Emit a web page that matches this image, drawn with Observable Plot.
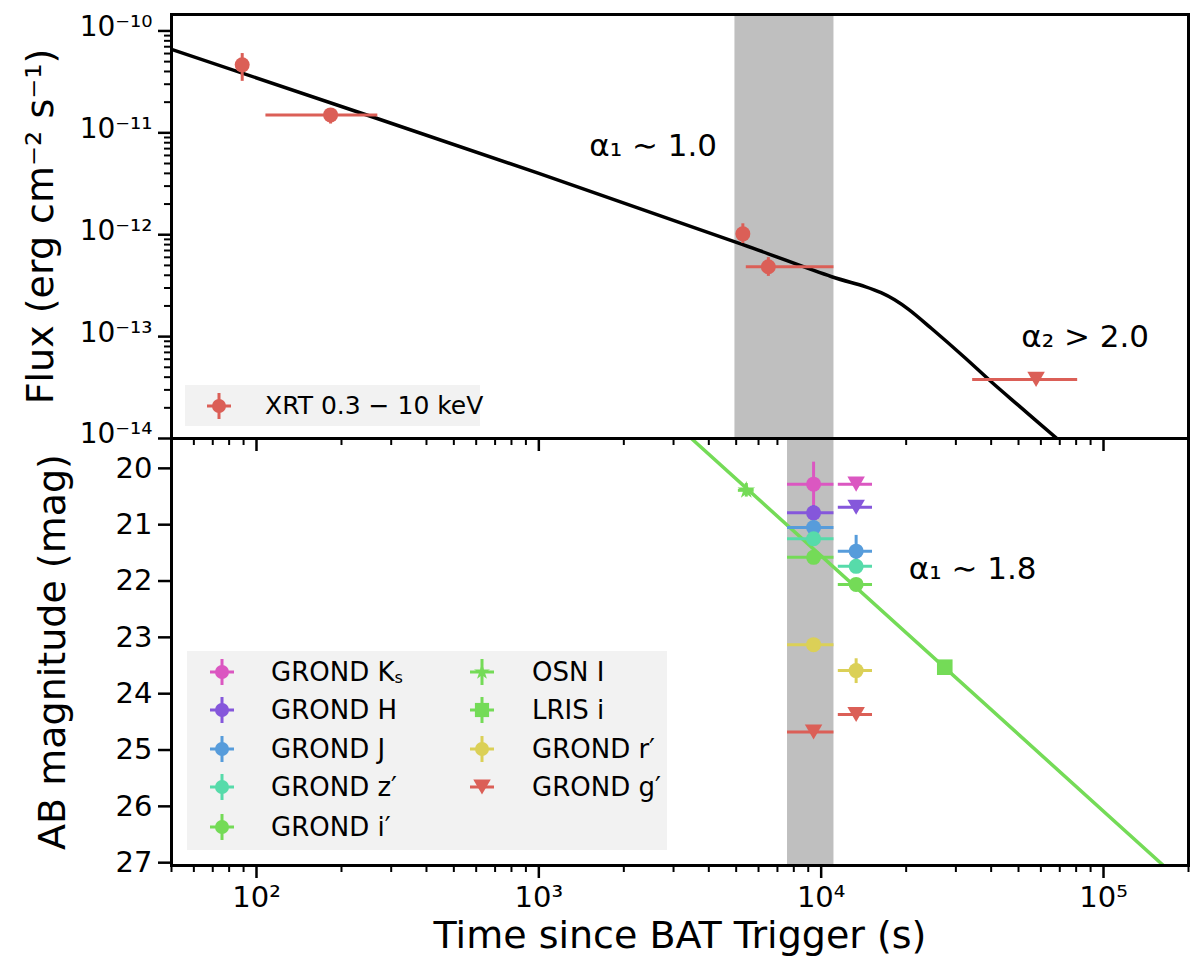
<!DOCTYPE html>
<html>
<head>
<meta charset="utf-8">
<script src="https://cdn.jsdelivr.net/npm/d3@7"></script>
<script src="https://cdn.jsdelivr.net/npm/@observablehq/plot@0.6"></script>
<style>
  body { margin: 0; background: #fff; font-family: "DejaVu Sans", sans-serif; }
  #wrap { position: relative; width: 1200px; height: 966px; overflow: hidden; }
  .legend { position: absolute; background: #f2f2f2; }
  .legend .mk { position: absolute; width: 36px; height: 36px; }
  .legend .lb { position: absolute; white-space: nowrap; color: #000; line-height: 30px; }
  .legend sub { font-size: 62%; vertical-align: -0.15em; }
</style>
</head>
<body>
<div id="wrap">
  <div id="topPanel"></div>
  <div id="bottomPanel"></div>
</div>
<script>
// axis ticks
const xMajor = [100, 1000, 10000, 100000];
const xMajorLabels = ["10²", "10³", "10⁴", "10⁵"];
const xMinor = [50, 60, 70, 80, 90, 200, 300, 400, 500, 600, 700, 800, 900,
  2000, 3000, 4000, 5000, 6000, 7000, 8000, 9000,
  20000, 30000, 40000, 50000, 60000, 70000, 80000, 90000, 200000];
const fluxMajor = [1e-14, 1e-13, 1e-12, 1e-11, 1e-10];
const fluxLabels = ["10⁻¹⁴", "10⁻¹³", "10⁻¹²", "10⁻¹¹", "10⁻¹⁰"];
const fluxMinor = [2e-14, 3e-14, 4e-14, 5e-14, 6e-14, 7e-14, 8e-14, 9e-14,
  2e-13, 3e-13, 4e-13, 5e-13, 6e-13, 7e-13, 8e-13, 9e-13,
  2e-12, 3e-12, 4e-12, 5e-12, 6e-12, 7e-12, 8e-12, 9e-12,
  2e-11, 3e-11, 4e-11, 5e-11, 6e-11, 7e-11, 8e-11, 9e-11];
const magTicks = [20, 21, 22, 23, 24, 25, 26, 27];

// X-ray panel
const xrtT = [89, 183, 5280, 6500];
const xrtTLo = [89, 108, 5280, 5430];
const xrtTHi = [89, 269, 5280, 11100];
const xrtF = [4.65e-11, 1.5e-11, 1.02e-12, 4.85e-13];
const xrtFLo = [3.2e-11, 1.22e-11, 8.2e-13, 3.9e-13];
const xrtFHi = [6.0e-11, 1.64e-11, 1.28e-12, 5.96e-13];
const xrtUlT = [57700];
const xrtUlTLo = [34400];
const xrtUlTHi = [81000];
const xrtUlF = [3.8e-14];
// fitted X-ray light curve
const modelT = [50, 1000, 5280, 10900, 14300, 16300, 18200, 20400, 24600, 32300, 40300, 50100, 68400];
const modelF = [6.6e-11, 4.0e-12, 8.0e-13, 3.87e-13, 3.1e-13, 2.7e-13, 2.3e-13, 1.85e-13, 1.2e-13, 6.2e-14, 3.54e-14, 2.1e-14, 1.0e-14];
const xrayBand = [4950, 11100];

// optical / NIR panel
const filters = ["GROND K<sub>s</sub>", "GROND H", "GROND J", "GROND z′", "GROND i′", "OSN I", "LRIS i", "GROND r′", "GROND g′"];
const filterColors = ["#db57c1", "#8557db", "#579cdb", "#57dbaa", "#74db57", "#74db57", "#74db57", "#dbd057", "#db5f57"];
const filterShapes = ["circle", "circle", "circle", "circle", "circle", "star", "square", "circle", "triangleDown"];

const detBand = [0, 1, 2, 3, 4, 7, 2, 3, 4, 7, 5, 6];
const detT = [9400, 9400, 9400, 9400, 9400, 9400, 13300, 13300, 13300, 13300, 5430, 27400];
const detTLo = [7600, 7600, 7600, 7600, 7600, 7600, 11500, 11500, 11500, 11500, 5090, 27400];
const detTHi = [11100, 11100, 11100, 11100, 11100, 11100, 15200, 15200, 15200, 15200, 5790, 27400];
const detMag = [20.28, 20.79, 21.05, 21.25, 21.58, 23.13, 21.47, 21.74, 22.06, 23.59, 20.39, 23.53];
const detMagLo = [19.89, 20.66, 20.93, 21.15, 21.47, 23.04, 21.19, 21.68, 21.97, 23.38, 20.27, 23.45];
const detMagHi = [20.67, 20.92, 21.17, 21.35, 21.69, 23.22, 21.75, 21.80, 22.15, 23.82, 20.51, 23.61];

const ulBand = [0, 1, 8, 8];
const ulT = [13300, 13300, 9400, 13300];
const ulTLo = [11500, 11500, 7600, 11500];
const ulTHi = [15200, 15200, 11100, 15200];
const ulMag = [20.28, 20.69, 24.68, 24.37];

// fitted optical decay
const optFitT = [3470, 163000];
const optFitMag = [19.47, 27.05];
const opticalBand = [7600, 11100];

// annotations
const topNoteT = [2540, 86100];
const topNoteF = [7.4e-12, 9.8e-14];
const topNoteText = ["α₁ ∼ 1.0", "α₂ > 2.0"];
const botNoteT = [34400];
const botNoteMag = [21.78];
const botNoteText = ["α₁ ∼ 1.8"];

const red = "#db5f57";
const font = "DejaVu Sans";

// downward triangle like matplotlib "v"
const triangleDown = {
  draw(context, size) {
    const s = Math.sqrt(size / (Math.sqrt(3) / 4));
    const h = s * Math.sqrt(3) / 2;
    context.moveTo(-s / 2, -h / 2);
    context.lineTo(s / 2, -h / 2);
    context.lineTo(0, h / 2);
    context.closePath();
  }
};
const shapes = { circle: d3.symbolCircle, star: d3.symbolStar, square: d3.symbolSquare, triangleDown };

const xrt = xrtT.map((t, i) => ({ t, tlo: xrtTLo[i], thi: xrtTHi[i], f: xrtF[i], flo: xrtFLo[i], fhi: xrtFHi[i] }));
const xrtUl = xrtUlT.map((t, i) => ({ t, tlo: xrtUlTLo[i], thi: xrtUlTHi[i], f: xrtUlF[i] }));
const model = modelT.map((t, i) => ({ t, f: modelF[i] }));
const det = detT.map((t, i) => ({ band: detBand[i], t, tlo: detTLo[i], thi: detTHi[i], m: detMag[i], mlo: detMagLo[i], mhi: detMagHi[i] }));
const ul = ulT.map((t, i) => ({ band: ulBand[i], t, tlo: ulTLo[i], thi: ulTHi[i], m: ulMag[i] }));
const optFit = optFitT.map((t, i) => ({ t, m: optFitMag[i] }));

const xScale = { type: "log", domain: [50, 200000] };
const colorOf = d => filterColors[d.band];

// ---------- top panel: X-ray flux ----------
const topChart = Plot.plot({
  width: 1200,
  height: 438,
  marginLeft: 171,
  marginRight: 12,
  marginTop: 14,
  marginBottom: 0,
  x: xScale,
  y: { type: "log", domain: [1e-14, 1.45e-10] },
  style: { fontFamily: font, overflow: "visible", background: "transparent" },
  marks: [
    Plot.rect([xrayBand], { x1: d => d[0], x2: d => d[1], fill: "#bfbfbf" }),
    Plot.line(model, { x: "t", y: "f", stroke: "black", strokeWidth: 3.5, curve: "catmull-rom", clip: true }),
    Plot.ruleX(xrt, { x: "t", y1: "flo", y2: "fhi", stroke: red, strokeWidth: 3 }),
    Plot.ruleY(xrt.filter(d => d.thi > d.tlo), { y: "f", x1: "tlo", x2: "thi", stroke: red, strokeWidth: 3 }),
    Plot.dot(xrt, { x: "t", y: "f", r: 7.5, fill: red }),
    Plot.ruleY(xrtUl, { y: "f", x1: "tlo", x2: "thi", stroke: red, strokeWidth: 3 }),
    Plot.dot(xrtUl, { x: "t", y: "f", r: 6.5, symbol: triangleDown, fill: red }),
    Plot.text(topNoteText, { x: (d, i) => topNoteT[i], y: (d, i) => topNoteF[i], text: d => d, fontSize: 31 }),
    Plot.axisY({ ticks: fluxMajor, tickFormat: () => "", tickSize: 13, strokeWidth: 2.5, label: null }),
    Plot.axisY({ ticks: fluxMajor, tickFormat: d => fluxLabels[fluxMajor.indexOf(d)], tickSize: 0, tickPadding: 19, dy: -4, fontSize: 28, label: null }),
    Plot.axisY({ ticks: fluxMinor, tickFormat: () => "", tickSize: 7, strokeWidth: 2, label: null }),
    Plot.axisX({ ticks: xMajor, tickFormat: () => "", tickSize: 13, strokeWidth: 2.5, label: null }),
    Plot.axisX({ ticks: xMinor, tickFormat: () => "", tickSize: 7, strokeWidth: 2, label: null }),
    Plot.text(["Flux (erg cm⁻² s⁻¹)"], { frameAnchor: "left", dx: -131, rotate: -90, textAnchor: "middle", lineAnchor: "middle", text: d => d, fontSize: 38 }),
    Plot.frame({ stroke: "black", strokeWidth: 3 })
  ]
});

// ---------- bottom panel: AB magnitudes ----------
const bottomChart = Plot.plot({
  width: 1200,
  height: 528,
  marginLeft: 171,
  marginRight: 12,
  marginTop: 0,
  marginBottom: 101,
  x: xScale,
  y: { domain: [19.47, 27.05], reverse: true },
  style: { fontFamily: font, overflow: "visible", background: "transparent" },
  marks: [
    Plot.rect([opticalBand], { x1: d => d[0], x2: d => d[1], fill: "#bfbfbf" }),
    Plot.line(optFit, { x: "t", y: "m", stroke: "#74db57", strokeWidth: 3.5, clip: true }),
    Plot.ruleX(det, { x: "t", y1: "mlo", y2: "mhi", stroke: colorOf, strokeWidth: 3 }),
    Plot.ruleY(det.filter(d => d.thi > d.tlo), { y: "m", x1: "tlo", x2: "thi", stroke: colorOf, strokeWidth: 3 }),
    Plot.dot(det.filter(d => filterShapes[d.band] === "circle"), { x: "t", y: "m", r: 7.5, fill: colorOf }),
    Plot.dot(det.filter(d => filterShapes[d.band] === "star"), { x: "t", y: "m", r: 5.5, symbol: "star", fill: colorOf }),
    Plot.dot(det.filter(d => filterShapes[d.band] === "square"), { x: "t", y: "m", r: 8.8, symbol: "square", fill: colorOf }),
    Plot.ruleY(ul, { y: "m", x1: "tlo", x2: "thi", stroke: colorOf, strokeWidth: 3 }),
    Plot.dot(ul, { x: "t", y: "m", r: 6.5, symbol: triangleDown, fill: colorOf }),
    Plot.text(botNoteText, { x: (d, i) => botNoteT[i], y: (d, i) => botNoteMag[i], text: d => d, fontSize: 31 }),
    Plot.axisY({ ticks: magTicks, tickSize: 13, tickPadding: 6, strokeWidth: 2.5, fontSize: 29, label: null }),
    Plot.axisX({ ticks: xMajor, tickFormat: d => xMajorLabels[xMajor.indexOf(d)], tickSize: 13, tickPadding: 8, strokeWidth: 2.5, fontSize: 29, label: null }),
    Plot.axisX({ ticks: xMinor, tickFormat: () => "", tickSize: 7, strokeWidth: 2, label: null }),
    Plot.text(["AB magnitude (mag)"], { frameAnchor: "left", dx: -119, rotate: -90, textAnchor: "middle", lineAnchor: "middle", text: d => d, fontSize: 38 }),
    Plot.text(["Time since BAT Trigger (s)"], { frameAnchor: "bottom", dy: 70, textAnchor: "middle", lineAnchor: "middle", text: d => d, fontSize: 38 }),
    Plot.frame({ stroke: "black", strokeWidth: 3 })
  ]
});

d3.select("#topPanel").append(() => topChart);
d3.select("#bottomPanel").append(() => bottomChart);

// ---------- legends ----------
function marker(color, shape, r, hbar, vbar) {
  const s = d3.create("svg").attr("class", "mk").attr("viewBox", "-18 -18 36 36");
  if (hbar) s.append("line").attr("x1", -12).attr("x2", 12).attr("stroke", color).attr("stroke-width", 3);
  if (vbar) s.append("line").attr("y1", -13).attr("y2", 13).attr("stroke", color).attr("stroke-width", 3);
  s.append("path").attr("d", d3.symbol(shapes[shape], Math.PI * r * r)()).attr("fill", color);
  return s.node();
}

function legendBox(left, topPx, w, h, items, fontSize) {
  const box = d3.select("#wrap").append("div").attr("class", "legend")
    .style("left", left + "px").style("top", topPx + "px")
    .style("width", w + "px").style("height", h + "px");
  for (const it of items) {
    box.append(() => marker(it.color, it.shape, it.r, true, it.shape !== "triangleDown"))
      .style("left", (it.mx - left - 18) + "px").style("top", (it.cy - topPx - 18) + "px");
    box.append("div").attr("class", "lb").html(it.label)
      .style("left", (it.tx - left) + "px").style("top", (it.cy - topPx - 15) + "px")
      .style("font-size", fontSize + "px");
  }
}

const symR = { circle: 7, star: 5, square: 8, triangleDown: 6.5 };
legendBox(185, 385, 295, 41, [{ label: "XRT 0.3 − 10 keV", color: red, shape: "circle", r: 7, mx: 219, tx: 265, cy: 406 }], 25);

const rowY = [672, 710, 749, 787, 827];
const colMx = [222, 482];
const colTx = [271, 532];
const order = [[0, 1, 2, 3, 4], [5, 6, 7, 8]];
const items = [];
order.forEach((col, c) => col.forEach((b, r) => items.push({
  label: filters[b], color: filterColors[b], shape: filterShapes[b], r: symR[filterShapes[b]],
  mx: colMx[c], tx: colTx[c], cy: rowY[r]
})));
legendBox(187, 651, 480, 199, items, 26);
</script>
</body>
</html>
